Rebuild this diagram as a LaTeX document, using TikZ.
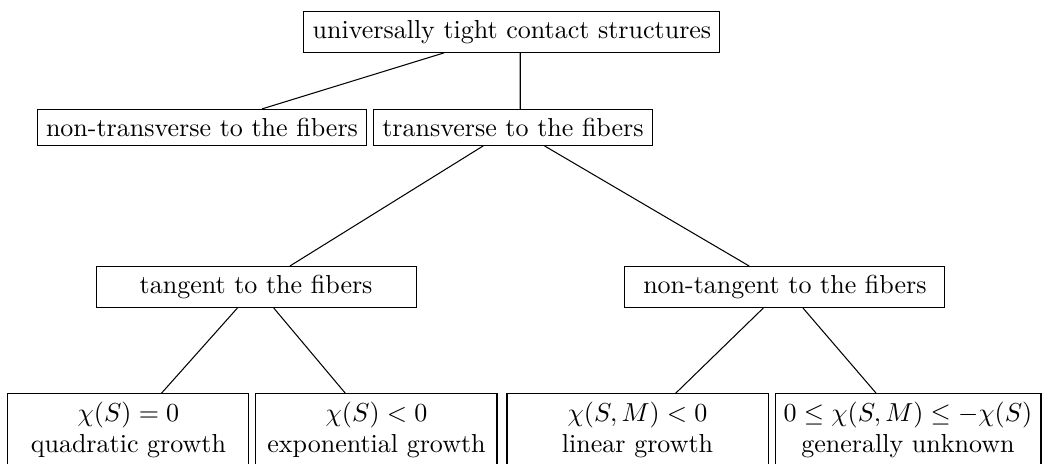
\documentclass[tikz,border=0pt]{standalone}
\usetikzlibrary{positioning}
\begin{document}
\begin{tikzpicture}[x=1pt, y=1pt, node distance=2.3pt, main node/.style={rectangle,draw,align=center}]
\useasboundingbox (0,0) rectangle (405,-178.1);
\node[main node](top) at (196.9,-12.3){universally tight contact structures};
\node[main node](trans) at (197.3,-49){transverse to the fibers};
\node[main node](nontrans)[left=of trans]{non-transverse to the fibers};
\node[main node, minimum width=123.1pt](tan) at (98.5,-110.4){tangent to the fibers};
\node[main node, minimum width=123.1pt](nontan) at (301.9,-110.4){non-tangent to the fibers};
\node[main node, minimum width=92.7pt, anchor=north](quad) at (49.4,-151.2){$\chi(S)=0$\\quadratic growth};
\node[main node, minimum width=92.7pt](expo)[right=of quad]{$\chi(S)<0$\\exponential growth};
\node[main node, minimum width=100.4pt, anchor=north](lin) at (245.2,-151.2){$\chi(S,M)<0$\\linear growth};
\node[main node](unk)[right=of lin]{$0\leq\chi(S,M)\leq-\chi(S)$\\generally unknown};
\draw(top)--(nontrans);
\draw([xshift=3.2pt]top.south)--([xshift=2.8pt]trans.north);
\draw(trans)--(tan);
\draw(trans)--(nontan);
\draw(tan)--(quad);
\draw(tan)--(expo);
\draw(nontan)--(lin);
\draw(nontan)--(unk);
\end{tikzpicture}
\end{document}
